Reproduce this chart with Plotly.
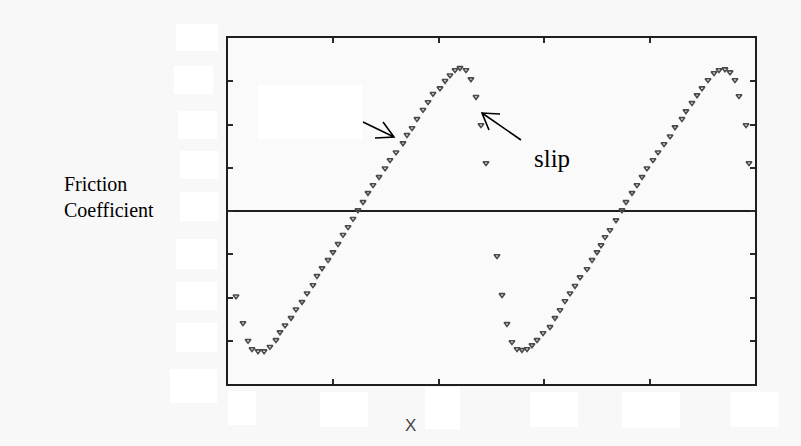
import plotly.graph_objects as go

# Stick-slip friction trace: two loading ramps, each ending in a slip drop
x_vals = [
    0.076, 0.142, 0.190, 0.228, 0.285, 0.342, 0.398, 0.455, 0.493, 0.541,
    0.598, 0.645, 0.702, 0.750, 0.806, 0.844, 0.892, 0.949, 0.996, 1.044,
    1.091, 1.139, 1.186, 1.233, 1.281, 1.328, 1.376, 1.433, 1.490, 1.537,
    1.594, 1.660, 1.698, 1.746, 1.793, 1.850, 1.898, 1.945, 2.011, 2.059,
    2.106, 2.154, 2.201, 2.258, 2.305, 2.353, 2.400, 2.448, 2.552, 2.600,
    2.647, 2.694, 2.742, 2.789, 2.837, 2.884, 2.932, 2.989, 3.055, 3.102,
    3.150, 3.197, 3.245, 3.292, 3.340, 3.406, 3.454, 3.501, 3.539, 3.577,
    3.624, 3.681, 3.738, 3.776, 3.833, 3.880, 3.928, 3.975, 4.032, 4.080,
    4.137, 4.194, 4.241, 4.307, 4.345, 4.402, 4.450, 4.497, 4.554, 4.611,
    4.658, 4.715, 4.763, 4.810, 4.848, 4.915, 4.943,
]
friction = [
    -0.197, -0.259, -0.300, -0.319, -0.324, -0.324, -0.314, -0.298, -0.280, -0.264,
    -0.247, -0.227, -0.210, -0.190, -0.171, -0.150, -0.132, -0.113, -0.095, -0.076,
    -0.055, -0.037, -0.018, 0.002, 0.021, 0.042, 0.060, 0.079, 0.099, 0.118,
    0.136, 0.157, 0.176, 0.192, 0.213, 0.234, 0.252, 0.271, 0.284, 0.301,
    0.314, 0.326, 0.331, 0.326, 0.305, 0.264, 0.199, 0.111, -0.104, -0.194,
    -0.261, -0.303, -0.319, -0.321, -0.319, -0.310, -0.298, -0.282, -0.268, -0.247,
    -0.229, -0.208, -0.190, -0.173, -0.153, -0.134, -0.113, -0.095, -0.079, -0.060,
    -0.044, -0.021, 0.002, 0.021, 0.042, 0.060, 0.079, 0.099, 0.118, 0.136,
    0.155, 0.173, 0.194, 0.213, 0.231, 0.250, 0.268, 0.284, 0.303, 0.319,
    0.326, 0.328, 0.321, 0.303, 0.266, 0.199, 0.111,
]
x_ticks = [0, 1, 2, 3, 4, 5]
y_ticks = [-0.4, -0.3, -0.2, -0.1, 0.0, 0.1, 0.2, 0.3, 0.4]

W, H = 801, 446
L, R, T, B = 228, 46, 38, 62
PW, PH = W - L - R, H - T - B


def px(x):
    return (x - L) / PW


def py(y):
    return (H - B - y) / PH


fig = go.Figure()
fig.add_trace(go.Scatter(
    x=x_vals, y=friction, mode="markers",
    marker=dict(symbol="triangle-down-open", size=5, color="#4a4a4a",
                line=dict(width=1.6, color="#4a4a4a")),
    cliponaxis=False, showlegend=False,
))

axis_common = dict(
    showgrid=False, showline=True, linecolor="#1e1e1e", linewidth=2,
    mirror="ticks", ticks="inside", ticklen=5, tickwidth=1.5,
    tickcolor="#2a2a2a", showticklabels=False,
)
fig.update_xaxes(range=[0, 5], tickvals=x_ticks, zeroline=False, **axis_common)
fig.update_yaxes(range=[-0.4, 0.4], tickvals=y_ticks, zeroline=True,
                 zerolinecolor="#1e1e1e", zerolinewidth=2, **axis_common)

# blank label plates over the tick-label positions
plates = [
    (176, 24, 218, 51), (174, 66, 213, 94), (178, 111, 217, 139),
    (180, 151, 219, 179), (180, 192, 219, 221), (176, 239, 217, 269),
    (176, 282, 217, 310), (176, 323, 217, 352), (170, 369, 217, 403),
    (228, 391, 256, 425), (320, 392, 368, 427), (425, 387, 460, 429),
    (530, 392, 578, 427), (622, 392, 680, 428), (731, 392, 779, 427),
    (258, 85, 362, 139),
]
shapes = []
for x0, y0, x1, y1 in plates:
    shapes.append(dict(type="rect", xref="paper", yref="paper",
                       x0=px(x0), x1=px(x1), y0=py(y1), y1=py(y0),
                       fillcolor="white", line=dict(width=0), layer="above"))

# pointer arrows with open heads: shaft tail, tip, and the two barb ends
arrows = [
    ((363, 122), (394, 137), (375, 138), (383, 122)),
    ((521, 140), (482, 113), (500, 114), (489, 130)),
]
for tail, tip, b1, b2 in arrows:
    path = "M{},{} L{},{} M{},{} L{},{} L{},{}".format(
        px(tail[0]), py(tail[1]), px(tip[0]), py(tip[1]),
        px(b1[0]), py(b1[1]), px(tip[0]), py(tip[1]), px(b2[0]), py(b2[1]))
    shapes.append(dict(type="path", xref="paper", yref="paper", path=path,
                       line=dict(color="black", width=1.6), layer="above"))

annotations = [
    dict(x=px(552), y=py(158), xref="paper", yref="paper", text="slip",
         showarrow=False, font=dict(family="Liberation Serif", size=25, color="black")),
    dict(x=px(62), y=py(197), xref="paper", yref="paper",
         text="Friction<br>Coefficient", showarrow=False, align="left",
         xanchor="left", yanchor="middle",
         font=dict(family="Liberation Serif", size=20, color="black")),
    dict(x=px(403), y=py(437), xref="paper", yref="paper", text="X",
         showarrow=False, font=dict(family="Liberation Sans", size=17, color="#444")),
]

fig.update_layout(
    width=W, height=H, margin=dict(l=L, r=R, t=T, b=B),
    paper_bgcolor="#f8f8f8", plot_bgcolor="#fafafa",
    shapes=shapes, annotations=annotations,
)

fig.write_html("out.html")
